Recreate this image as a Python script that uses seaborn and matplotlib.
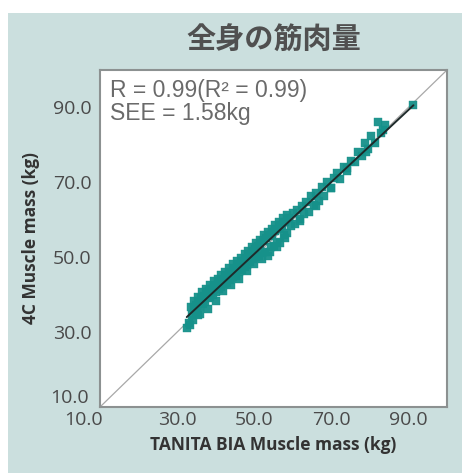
import matplotlib
matplotlib.use("Agg")
import matplotlib.pyplot as plt
import seaborn as sns
import pandas as pd
from matplotlib.patches import Rectangle
from matplotlib.transforms import ScaledTranslation

# ---- data ----
bia_kg = [32.5, 33.0, 33.4, 33.8, 34.0, 34.3, 34.8, 35.0, 35.3, 35.7, 36.0, 36.2, 36.6, 37.0, 37.3,
          37.7, 38.0, 38.2, 38.6, 39.0, 39.3, 39.8, 40.1, 40.5, 40.8, 41.2, 41.5, 41.9, 42.3, 42.6,
          43.0, 43.4, 43.8, 44.1, 44.5, 44.9, 45.2, 45.6, 46.0, 46.3, 46.8, 47.1, 47.5, 47.9, 48.2,
          48.7, 49.0, 49.4, 49.8, 50.2, 50.5, 50.9, 51.3, 51.6, 52.0, 52.4, 52.8, 53.1, 53.5, 53.9,
          54.3, 54.7, 55.0, 55.4, 55.9, 56.3, 56.8, 57.2, 57.7, 58.1, 58.6, 59.0, 59.6, 60.1, 60.7,
          61.2, 61.8, 62.4, 63.0, 63.5, 64.1, 64.8, 65.4, 66.0, 66.7, 67.5, 68.2, 69.0, 69.8, 70.6,
          71.5, 72.3, 73.2, 74.0, 75.0, 76.1, 77.0, 78.0, 78.8, 79.6, 80.4, 81.2, 82.0, 82.8, 83.5,
          91.3,
          33.5, 34.5, 35.5, 36.5, 37.5, 38.5, 39.5, 40.5, 41.5, 42.5, 43.5, 44.5, 45.5, 46.5, 47.5,
          48.5, 49.5, 50.5, 51.5, 52.5, 53.5, 54.5, 55.5, 56.5, 57.5, 58.5, 36.0, 38.0, 40.0, 42.0,
          44.0, 46.0, 48.0, 50.0, 52.0, 54.0, 56.0, 58.0, 62.0, 66.0, 70.0, 74.0, 79.0, 84.0]
c4_kg = [31.0, 32.5, 31.8, 34.6, 33.2, 36.5, 35.4, 37.2, 34.6, 38.0, 36.9, 39.0, 37.5, 39.6, 38.1,
         40.2, 39.0, 41.0, 39.4, 41.5, 40.0, 42.3, 40.8, 42.9, 41.6, 43.4, 42.0, 44.0, 42.8, 44.6,
         43.2, 45.3, 44.0, 46.0, 44.6, 46.5, 45.0, 47.2, 46.1, 47.8, 46.5, 48.6, 47.4, 49.5, 48.0,
         50.3, 48.7, 51.4, 49.5, 52.2, 50.0, 52.9, 50.4, 53.6, 51.0, 54.3, 51.5, 55.0, 50.2, 55.6,
         52.6, 56.3, 53.1, 57.0, 54.0, 57.5, 53.8, 58.4, 56.0, 59.5, 56.5, 60.6, 58.3, 61.8, 59.0,
         62.7, 60.3, 63.6, 61.5, 64.8, 62.2, 66.3, 64.0, 67.2, 65.1, 68.8, 66.4, 70.1, 68.6, 71.2,
         72.4, 71.0, 74.1, 73.0, 75.6, 75.3, 78.2, 77.1, 80.4, 79.0, 82.3, 80.6, 86.0, 83.2, 84.0,
         90.6,
         36.8, 38.2, 39.4, 40.6, 41.4, 42.5, 43.6, 44.3, 45.3, 46.1, 47.0, 48.1, 48.9, 49.7, 50.8,
         51.6, 52.8, 53.9, 54.6, 55.9, 56.7, 57.6, 58.6, 59.3, 60.5, 61.2, 34.8, 36.3, 38.4, 40.9,
         42.7, 44.2, 46.3, 48.3, 49.4, 51.3, 52.8, 55.2, 59.6, 63.8, 68.5, 73.9, 78.0, 85.3]
axis_ticks = [10, 30, 50, 70, 90]
tick_labels = ["10.0", "30.0", "50.0", "70.0", "90.0"]
axis_limits = [10, 100]
title_text = "全身の筋肉量"
stats_text = "R = 0.99(R² = 0.99)\nSEE = 1.58kg"
x_label = "TANITA BIA Muscle mass (kg)"
y_label = "4C Muscle mass (kg)"

df = pd.DataFrame({"bia": bia_kg, "c4": c4_kg})

sns.set_theme(style="white")
plt.rcParams["font.family"] = ["Open Sans", "Noto Sans CJK JP", "DejaVu Sans"]

W, H = 462, 473
fig = plt.figure(figsize=(W / 100, H / 100), dpi=100)
fig.patch.set_facecolor("white")
fig.add_artist(Rectangle((8 / W, 0), 1, (H - 13) / H, transform=fig.transFigure,
                         facecolor="#cbdfde", edgecolor="none", zorder=0))

ax = fig.add_axes([100 / W, (H - 407) / H, 347 / W, 337 / H])
ax.set_facecolor("white")

# identity line
ax.plot(axis_limits, axis_limits, color="#a8a8a8", lw=0.9, zorder=1)

sns.scatterplot(data=df, x="bia", y="c4", ax=ax, marker="s", s=38, color="#16918a",
                edgecolor="#16918a", linewidth=0.3, alpha=0.95, zorder=2, legend=False)
sns.regplot(data=df, x="bia", y="c4", ax=ax, scatter=False, ci=None,
            line_kws={"color": "#1e2a2a", "lw": 1.4, "zorder": 3}, truncate=True)

ax.set_xlim(axis_limits)
ax.set_ylim(axis_limits)
ax.set_xticks(axis_ticks)
ax.set_yticks(axis_ticks)
ax.set_xticklabels(tick_labels)
ax.set_yticklabels(tick_labels)
ax.tick_params(axis="both", length=0, labelsize=14, colors="#4a4a4a")
ax.tick_params(axis="x", pad=3)
ax.tick_params(axis="y", pad=6)

# corner labels as in the reference
xl0 = ax.get_xticklabels()[0]
xl0.set_ha("right")
xl0.set_transform(xl0.get_transform() + ScaledTranslation(3 / 100, 0, fig.dpi_scale_trans))
yl0 = ax.get_yticklabels()[0]
yl0.set_va("bottom")
yl0.set_transform(yl0.get_transform() + ScaledTranslation(-3 / 100, 0, fig.dpi_scale_trans))

for sp in ax.spines.values():
    sp.set_color("#8c9191")
    sp.set_linewidth(1.5)

ax.set_xlabel(x_label, fontsize=12.5, fontweight="bold", color="#333333", labelpad=5)
ax.set_ylabel(y_label, fontsize=12.5, fontweight="bold", color="#333333", labelpad=7)

ax.text(0.029, 0.972, stats_text, transform=ax.transAxes, ha="left", va="top",
        fontsize=16.5, color="#6a6a6a", linespacing=1.0, zorder=5,
        family=["Liberation Sans", "DejaVu Sans"])

fig.text((100 + 447) / 2 / W, 1 - 40 / H, title_text, ha="center", va="center",
         fontsize=21, fontweight="bold", color="#505050",
         family=["Noto Sans CJK JP", "DejaVu Sans"])

fig.savefig("out.png", dpi=100)
